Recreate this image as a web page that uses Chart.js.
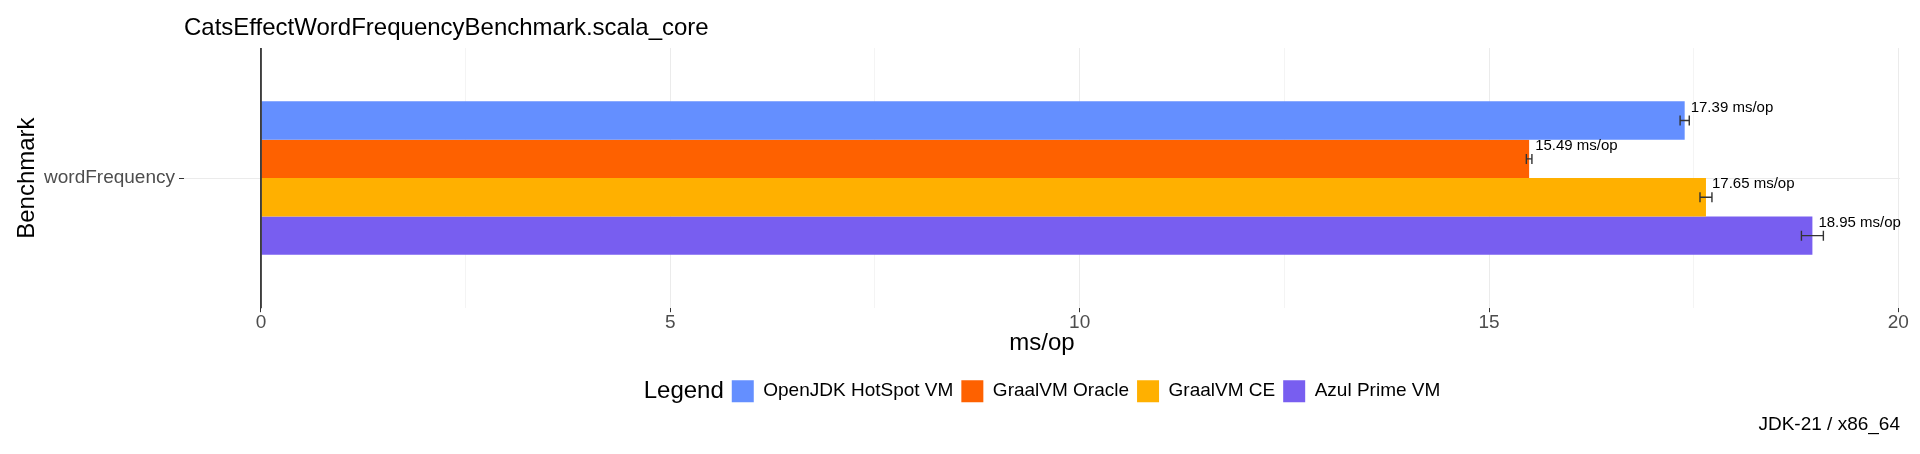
<!DOCTYPE html>
<html>
<head>
<meta charset="utf-8">
<script src="https://cdn.jsdelivr.net/npm/chart.js@4"></script>
<style>
  html, body { margin: 0; padding: 0; background: #fff; }
  #wrap { width: 1920px; height: 454px; }
</style>
</head>
<body>
<div id="wrap"><canvas id="benchChart" width="1920" height="454"></canvas></div>
<script>
// values
const categories = ['wordFrequency'];
const seriesNames = ['OpenJDK HotSpot VM', 'GraalVM Oracle', 'GraalVM CE', 'Azul Prime VM'];
const scores = [17.39, 15.49, 17.65, 18.95];
const scoreErrors = [0.056, 0.034, 0.073, 0.134];
const xTicks = [0, 5, 10, 15, 20];
const unit = 'ms/op';

const palette = ['#648FFF', '#FE6100', '#FFB000', '#785EF0'];
const FONT = 'Liberation Sans, Arial, sans-serif';

// error bars + value labels + the x = 0 reference line
const barExtras = {
  id: 'barExtras',
  afterDatasetsDraw(chart) {
    const {ctx, chartArea, scales: {x}} = chart;
    ctx.save();
    // vline at zero
    const x0 = x.getPixelForValue(0);
    ctx.strokeStyle = '#333333';
    ctx.lineWidth = 1.8;
    ctx.beginPath();
    ctx.moveTo(x0, chartArea.top);
    ctx.lineTo(x0, chartArea.bottom);
    ctx.stroke();

    chart.data.datasets.forEach((ds, i) => {
      const meta = chart.getDatasetMeta(i);
      meta.data.forEach((bar, j) => {
        const v = ds.data[j];
        const e = ds.errors[j];
        const lo = x.getPixelForValue(v - e);
        const hi = x.getPixelForValue(v + e);
        const y = bar.y;
        ctx.strokeStyle = '#333333';
        ctx.lineWidth = 1.4;
        ctx.beginPath();
        ctx.moveTo(lo, y); ctx.lineTo(hi, y);
        ctx.moveTo(lo, y - 5); ctx.lineTo(lo, y + 5);
        ctx.moveTo(hi, y - 5); ctx.lineTo(hi, y + 5);
        ctx.stroke();

        ctx.fillStyle = '#000000';
        ctx.font = '15px ' + FONT;
        ctx.textAlign = 'left';
        ctx.textBaseline = 'middle';
        ctx.fillText(v.toFixed(2) + ' ' + unit, bar.x + 6, y - 13);
      });
    });
    ctx.restore();
  }
};

// shift legend so "Legend" + items sit centred under the panel
const legendTitle = {
  id: 'legendTitle',
  afterLayout(chart) {
    const lg = chart.legend;
    chart.ctx.save();
    chart.ctx.font = '24px ' + FONT;
    const w = chart.ctx.measureText('Legend').width;
    chart.ctx.restore();
    const shift = (w + 8) / 2;
    lg.left += shift;
    lg.right += shift;
  },
  afterDraw(chart) {
    const lg = chart.legend;
    const hb = lg.legendHitBoxes[0];
    if (!hb) return;
    const {ctx} = chart;
    ctx.save();
    ctx.font = '24px ' + FONT;
    ctx.fillStyle = '#000000';
    ctx.textAlign = 'right';
    ctx.textBaseline = 'middle';
    ctx.fillText('Legend', hb.left - 8, hb.top + hb.height / 2);
    ctx.restore();
  }
};

const datasets = seriesNames.map((name, i) => ({
  label: name,
  data: [scores[i]],
  errors: [scoreErrors[i]],
  backgroundColor: palette[i],
  borderColor: palette[i],
  borderWidth: 0
}));

new Chart(document.getElementById('benchChart'), {
  type: 'bar',
  data: { labels: categories, datasets: datasets },
  plugins: [barExtras, legendTitle],
  options: {
    indexAxis: 'y',
    responsive: false,
    animation: false,
    datasets: {
      bar: { categoryPercentage: 0.59, barPercentage: 1.0 }
    },
    layout: { padding: { left: 0, right: 20, top: 0, bottom: 0 } },
    scales: {
      x: {
        type: 'linear',
        min: -0.94,
        max: 20.02,
        border: { display: false },
        grid: {
          color: c => (c.tick && c.tick.value % 5 === 0) ? '#EBEBEB' : '#F4F4F4',
          lineWidth: 1,
          drawTicks: true,
          tickLength: 4,
          tickColor: c => (c.tick && c.tick.value % 5 === 0) ? '#333333' : 'rgba(0,0,0,0)'
        },
        ticks: {
          stepSize: 2.5,
          includeBounds: false,
          autoSkip: false,
          maxRotation: 0,
          padding: 1,
          color: '#4D4D4D',
          font: { family: FONT, size: 19, lineHeight: 1 },
          callback: v => xTicks.includes(v) ? String(v) : ''
        },
        title: {
          display: true,
          text: unit,
          color: '#000000',
          font: { family: FONT, size: 24 },
          padding: { top: 0, bottom: 14 }
        },
        afterFit: s => { s.height = 64; s.paddingLeft = 0; s.paddingRight = 0; }
      },
      y: {
        type: 'category',
        border: { display: false },
        grid: {
          offset: false,
          color: '#EBEBEB',
          lineWidth: 1,
          tickLength: 5,
          tickColor: '#333333'
        },
        ticks: {
          padding: 4,
          color: '#4D4D4D',
          font: { family: FONT, size: 19 }
        },
        title: {
          display: true,
          text: 'Benchmark',
          color: '#000000',
          font: { family: FONT, size: 24 },
          padding: { top: 12.6, bottom: 0 }
        },
        afterFit: s => { s.width = 184; }
      }
    },
    plugins: {
      tooltip: { enabled: false },
      title: {
        display: true,
        text: 'CatsEffectWordFrequencyBenchmark.scala_core',
        align: 'start',
        fullSize: false,
        color: '#000000',
        font: { family: FONT, size: 24, weight: 'normal' },
        padding: { top: 14, bottom: 5.2 }
      },
      subtitle: {
        display: true,
        position: 'bottom',
        align: 'end',
        text: 'JDK-21 / x86_64',
        color: '#000000',
        font: { family: FONT, size: 19, weight: 'normal' },
        padding: { top: 1.5, bottom: 17.5 }
      },
      legend: {
        display: true,
        position: 'bottom',
        align: 'center',
        fullSize: false,
        labels: {
          boxWidth: 22,
          boxHeight: 22,
          padding: 8,
          color: '#000000',
          font: { family: FONT, size: 19 }
        }
      }
    }
  }
});
</script>
</body>
</html>
